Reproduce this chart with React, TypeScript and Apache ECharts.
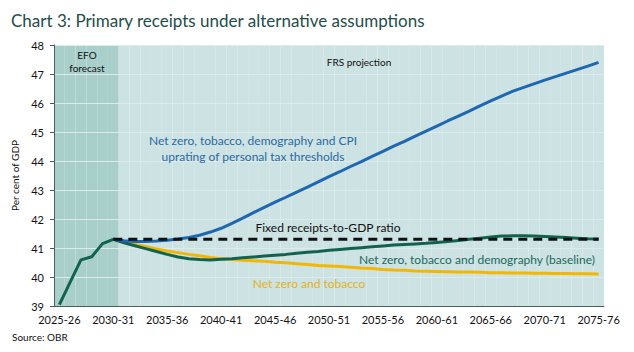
import React, { useEffect, useRef } from "react";
import * as echarts from "echarts";

const years: string[] = [];
for (let y = 2025; y <= 2075; y++) years.push(`${y}-${String((y + 1) % 100).padStart(2, "0")}`);
const categories = years;

const efoCategories = ["2025-26", "2026-27", "2027-28", "2028-29", "2029-30", "2030-31"];

// Net zero, tobacco and demography (baseline)
const baseline = [
  39.05, 39.82, 40.59, 40.7, 41.15, 41.3, 41.18, 41.08, 40.98, 40.88,
  40.78, 40.69, 40.63, 40.6, 40.59, 40.61, 40.63, 40.66, 40.69, 40.72,
  40.75, 40.78, 40.82, 40.85, 40.88, 40.92, 40.95, 40.98, 41.01, 41.04,
  41.07, 41.1, 41.12, 41.14, 41.16, 41.19, 41.22, 41.26, 41.3, 41.34,
  41.38, 41.41, 41.42, 41.42, 41.41, 41.4, 41.38, 41.36, 41.34, 41.32, 41.31,
];

// Net zero and tobacco
const netZeroTobacco = [
  null, null, null, null, null, 41.3, 41.21, 41.13, 41.05, 40.97,
  40.9, 40.84, 40.78, 40.73, 40.67, 40.63, 40.6, 40.58, 40.56, 40.54,
  40.51, 40.49, 40.46, 40.43, 40.4, 40.38, 40.36, 40.34, 40.31, 40.29,
  40.26, 40.24, 40.23, 40.21, 40.2, 40.19, 40.18, 40.17, 40.17, 40.16,
  40.15, 40.15, 40.14, 40.14, 40.13, 40.13, 40.12, 40.12, 40.11, 40.11, 40.1,
];

// Net zero, tobacco, demography and CPI uprating of personal tax thresholds
const cpiUprating = [
  null, null, null, null, null, 41.3, 41.25, 41.22, 41.22, 41.24,
  41.27, 41.31, 41.36, 41.44, 41.55, 41.68, 41.85, 42.03, 42.22, 42.4,
  42.58, 42.75, 42.93, 43.1, 43.28, 43.46, 43.63, 43.81, 43.98, 44.16,
  44.33, 44.51, 44.68, 44.86, 45.03, 45.2, 45.38, 45.55, 45.72, 45.9,
  46.07, 46.24, 46.4, 46.53, 46.66, 46.79, 46.91, 47.03, 47.15, 47.27, 47.4,
];

// Fixed receipts-to-GDP ratio
const fixedRatio = categories.map((_, i) => (i >= 5 ? 41.3 : null));

const Y_MIN = 39;
const Y_MAX = 48;

const FONT = "Lato";

export default function App() {
  const ref = useRef<HTMLDivElement>(null);
  useEffect(() => {
    if (!ref.current) return;
    const chart = echarts.init(ref.current, null, { renderer: "svg" });
    const txt = (text: string, x: number, y: number, fill: string, size: number, align = "center") => ({
      type: "text",
      x,
      y,
      silent: true,
      z: 100,
      style: { text, fill, font: `${size}px ${FONT}`, align, verticalAlign: "middle" },
    });
    chart.setOption({
      animation: false,
      textStyle: { fontFamily: FONT },
      grid: { left: 54, right: 30, top: 45, bottom: 46, containLabel: false },
      xAxis: {
        type: "category",
        data: categories,
        boundaryGap: true,
        axisLine: { lineStyle: { color: "#4a5e5a", width: 1 } },
        axisTick: { interval: 4, length: 4, lineStyle: { color: "#4a5e5a" } },
        axisLabel: { interval: 4, color: "#111", fontSize: 11, margin: 8, fontFamily: FONT },
      },
      yAxis: {
        type: "value",
        min: Y_MIN,
        max: Y_MAX,
        interval: 1,
        name: "Per cent of GDP",
        nameLocation: "middle",
        nameGap: 27,
        nameRotate: 90,
        nameTextStyle: { color: "#111", fontSize: 10, fontFamily: FONT },
        axisLine: { show: true, lineStyle: { color: "#4a5e5a" } },
        axisTick: { show: true, length: 4, lineStyle: { color: "#4a5e5a" } },
        axisLabel: { color: "#111", fontSize: 11, margin: 10, fontFamily: FONT },
        splitLine: { show: true, lineStyle: { color: "#dcebeb", width: 1 } },
      },
      series: [
        {
          type: "bar",
          silent: true,
          z: -1,
          barCategoryGap: "0%",
          barWidth: "100%",
          data: categories.map((c) => ({
            value: Y_MAX,
            itemStyle: { color: efoCategories.includes(c) ? "#a9cfcb" : "#cde2e2" },
          })),
        },
        {
          name: "Net zero and tobacco",
          type: "line",
          data: netZeroTobacco,
          showSymbol: false,
          smooth: false,
          lineStyle: { color: "#f2b705", width: 3 },
          z: 3,
        },
        {
          name: "Net zero, tobacco and demography (baseline)",
          type: "line",
          data: baseline,
          showSymbol: false,
          lineStyle: { color: "#13624f", width: 3 },
          z: 4,
        },
        {
          name: "Net zero, tobacco, demography and CPI uprating of personal tax thresholds",
          type: "line",
          data: cpiUprating,
          showSymbol: false,
          lineStyle: { color: "#1f67b1", width: 3 },
          z: 5,
        },
        {
          name: "Fixed receipts-to-GDP ratio",
          type: "line",
          data: fixedRatio,
          showSymbol: false,
          lineStyle: { color: "#111", width: 3, type: [9, 6] },
          z: 6,
        },
      ],
      graphic: [
        txt("Chart 3: Primary receipts under alternative assumptions", 11, 20, "#1e4d4b", 17, "left"),
        txt("Source: OBR", 12, 337, "#111", 10, "left"),
        txt("EFO", 87, 55, "#111", 10),
        txt("forecast", 87, 68, "#111", 10),
        txt("FRS projection", 359, 62, "#111", 10),
        txt("Net zero, tobacco, demography and CPI", 253, 140, "#2a6aa4", 12),
        txt("uprating of personal tax thresholds", 253, 156, "#2a6aa4", 12),
        txt("Fixed receipts-to-GDP ratio", 328, 227, "#111", 12),
        txt("Net zero, tobacco and demography (baseline)", 477, 259, "#1b6a5c", 12),
        txt("Net zero and tobacco", 309, 283, "#e3b21c", 12),
      ],
    });
    return () => chart.dispose();
  }, []);
  return (
    <div
      ref={ref}
      style={{ position: "fixed", left: 0, top: 0, width: 634, height: 352, background: "#fff" }}
    />
  );
}
